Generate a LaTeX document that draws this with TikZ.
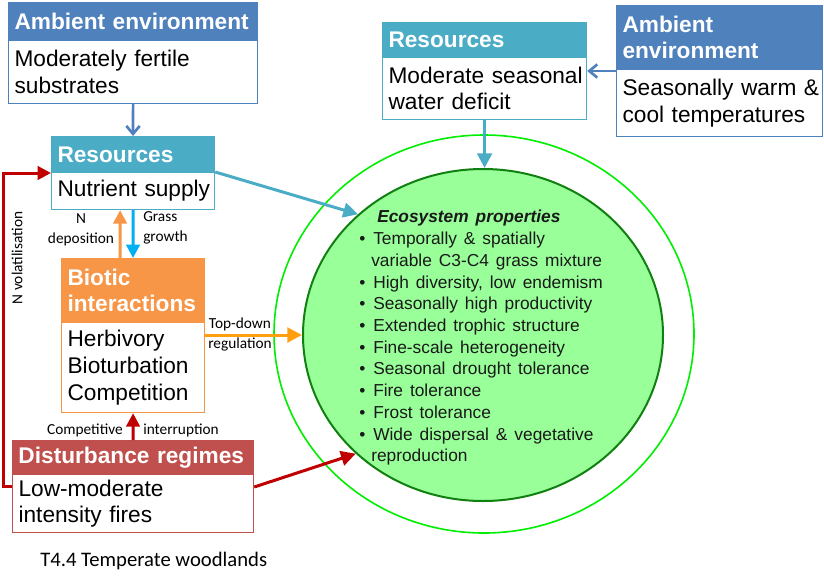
\documentclass[tikz,border=0pt]{standalone}
\usepackage{fontspec}
\setmainfont{Liberation Sans}
\newfontfamily\calfont{Carlito}
\usetikzlibrary{arrows.meta,shapes.geometric,calc}
\definecolor{ambblue}{HTML}{4F81BD}
\definecolor{resteal}{HTML}{4BACC6}
\definecolor{bioorange}{HTML}{F79646}
\definecolor{distred}{HTML}{C0504D}
\definecolor{redA}{HTML}{C00000}
\definecolor{cyanA}{HTML}{00B0F0}
\definecolor{topor}{HTML}{FF9F10}
\definecolor{limeg}{HTML}{00EE00}
\definecolor{darkg}{HTML}{108010}
\definecolor{lightg}{HTML}{99FF99}
\begin{document}
\begin{tikzpicture}[x=0.75pt,y=-0.75pt,
 hdr/.style={anchor=north west, rectangle, inner xsep=4.5pt, inner ysep=0pt, align=left, text=white, font=\fontsize{17}{19.5}\selectfont\bfseries, line width=0.75pt},
 bdy/.style={anchor=north west, rectangle, fill=white, inner xsep=4.5pt, inner ysep=0pt, align=left, text=black, font=\fontsize{17}{19.9}\selectfont, line width=0.9pt},
 lbl/.style={inner sep=0pt, font=\calfont\fontsize{11.5}{14.8}\selectfont, align=center},
 tri/.style={-{Triangle[length=10pt,width=10pt]}},
 trib/.style={-{Triangle[length=11pt,width=11pt]}},
 barb/.style={-{Straight Barb[length=6pt,width=10pt]}},
 conn/.style={line width=2.25pt}
]
\useasboundingbox (0,0) rectangle (824,586);

% left ambient environment
\node[bdy, draw=ambblue, minimum width=186.75pt, text width=177.75pt, minimum height=47.25pt] (ambLb) at (8,40) {\mbox{Moderately fertile}\\\mbox{substrates}};
\node[hdr, fill=ambblue, draw=ambblue, minimum width=186.75pt, text width=177.75pt, minimum height=28.5pt] (ambLh) at (8,2) {\mbox{Ambient environment}};

% left resources
\node[bdy, draw=resteal, minimum width=122.25pt, text width=113.25pt, minimum height=27.75pt] (resLb) at (51,172) {\mbox{Nutrient supply}};
\node[hdr, fill=resteal, draw=resteal, minimum width=122.25pt, text width=113.25pt, minimum height=27pt] (resLh) at (51,136) {\mbox{Resources}};

% biotic interactions
\node[bdy, draw=bioorange, minimum width=107.25pt, text width=98.25pt, minimum height=67.5pt] (biob) at (61,322) {\mbox{Herbivory}\\\mbox{Bioturbation}\\\mbox{Competition}};
\node[hdr, fill=bioorange, draw=bioorange, minimum width=107.25pt, text width=98.25pt, minimum height=48pt] (bioh) at (61,258) {\mbox{Biotic}\\\mbox{interactions}};

% disturbance regimes
\node[bdy, draw=distred, minimum width=180.75pt, text width=171.75pt, minimum height=43.5pt] (disb) at (12,474) {\mbox{Low-moderate}\\\mbox{intensity fires}};
\node[hdr, fill=distred, draw=distred, minimum width=180.75pt, text width=171.75pt, minimum height=25.5pt] (dish) at (12,440) {\mbox{Disturbance regimes}};

% right resources
\node[bdy, draw=resteal, minimum width=153pt, text width=144pt, minimum height=46.5pt] (resRb) at (382,57) {\mbox{Moderate seasonal}\\\mbox{water deficit}};
\node[hdr, fill=resteal, draw=resteal, minimum width=153pt, text width=144pt, minimum height=26.25pt] (resRh) at (382,22) {\mbox{Resources}};

% right ambient environment
\node[bdy, draw=ambblue, minimum width=154.5pt, text width=145.5pt, minimum height=50.25pt] (ambRb) at (616,69) {\mbox{Seasonally warm \&}\\\mbox{cool temperatures}};
\node[hdr, fill=ambblue, draw=ambblue, minimum width=154.5pt, text width=145.5pt, minimum height=48pt] (ambRh) at (616,5) {\mbox{Ambient}\\\mbox{environment}};

% ecosystem ellipses
\node[ellipse, draw=limeg, line width=1.2pt, minimum width=315pt, minimum height=298.5pt, inner sep=0pt] (outer) at (484,334) {};
\node[ellipse, draw=darkg, fill=lightg, line width=1.5pt, minimum width=270pt, minimum height=249pt, inner sep=0pt] (eco) at (483,335) {};

\node[anchor=north west, inner sep=0pt, align=left, text=black!90, font={\fontsize{13}{16.3}\selectfont\spaceskip=0.4em\relax}] (ecotxt) at (359,210) {%
\hspace*{13.5pt}\textbf{\textit{Ecosystem properties}}\\%
\makebox[10.5pt][l]{•}Temporally \& spatially\\%
\hspace*{9pt}variable C3-C4 grass mixture\\%
\makebox[10.5pt][l]{•}High diversity, low endemism\\%
\makebox[10.5pt][l]{•}Seasonally high productivity\\%
\makebox[10.5pt][l]{•}Extended trophic structure\\%
\makebox[10.5pt][l]{•}Fine-scale heterogeneity\\%
\makebox[10.5pt][l]{•}Seasonal drought tolerance\\%
\makebox[10.5pt][l]{•}Fire tolerance\\%
\makebox[10.5pt][l]{•}Frost tolerance\\%
\makebox[10.5pt][l]{•}Wide dispersal \& vegetative\\%
\hspace*{9pt}reproduction};

% connectors
\draw[ambblue, line width=2pt, barb] (ambLb.south) -- (resLh.north);
\draw[ambblue, line width=2pt, barb] ($(ambRb.north west)+(0,2)$) -- ($(resRb.north east)+(0,14)$);
\draw[cyanA, conn, tri] (resLb.south) -- (bioh.north);
\draw[bioorange, conn, tri] ($(bioh.north)+(-13,0)$) -- ($(resLb.south)+(-13,0)$);
\draw[redA, conn, tri] (dish.north) -- (biob.south);
\draw[redA, conn, tri] ($(disb.north west)+(0,12)$) -- ++(-9,0) |- (resLh.south west);
\draw[redA, conn, trib] ($(disb.north east)+(0,13)$) -- (eco.223);
\draw[resteal, conn, trib] (resLb.north east) -- (eco.136);
\draw[topor, conn, trib] ($(biob.north east)+(0,13)$) -- (eco.west);
\draw[resteal, conn, trib] (resRb.south) -- (resRb.south |- eco.north);

% labels
\node[lbl] (ndep) at (81,230) {N\\deposition};
\node[lbl, align=left, anchor=west] (grass) at (143,228) {Grass\\growth};
\node[lbl] (topd) at (240,334.5) {Top-down\\regulation};
\node[lbl, anchor=east] (compet) at (123,430) {Competitive};
\node[lbl, anchor=west] (interr) at (143,430) {interruption};
\node[lbl, rotate=90] (nvol) at (17,258) {N volatilisation};
\node[inner sep=0pt, anchor=west, font=\calfont\fontsize{15.5}{18}\selectfont] (caption) at (40,561) {T4.4 Temperate woodlands};
\end{tikzpicture}
\end{document}
